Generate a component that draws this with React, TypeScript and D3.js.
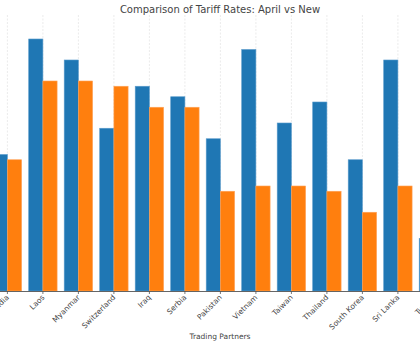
import React from "react";
import * as d3 from "d3";

const categories = ["India", "Laos", "Myanmar", "Switzerland", "Iraq", "Serbia", "Pakistan", "Vietnam", "Taiwan", "Thailand", "South Korea", "Sri Lanka", "Turkey"];
const aprilRates = [26, 48, 44, 31, 39, 37, 29, 46, 32, 36, 25, 44, 10];
const newRates = [25, 40, 40, 39, 35, 35, 19, 20, 20, 19, 15, 20, 15];

const W = 420;
const H = 345;
const step = 35.5;
const firstCenter = 7.4;
const baseY = 291;
const topY = 15;

export default function App() {
  const x = d3
    .scaleBand<string>()
    .domain(categories)
    .range([firstCenter - step / 2, firstCenter - step / 2 + step * categories.length])
    .padding(0);
  const y = d3.scaleLinear().domain([0, 52.57]).range([baseY, topY]);
  const bw = x.bandwidth() * 0.4;
  const font = "DejaVu Sans, sans-serif";
  const cx = (c: string) => (x(c) as number) + x.bandwidth() / 2;

  return (
    <svg width={W} height={H} style={{ position: "absolute", left: 0, top: 0, background: "#fff" }}>
      <rect width={W} height={H} fill="#fff" />
      {categories.map((c) => (
        <line key={"g" + c} x1={cx(c)} x2={cx(c)} y1={topY} y2={baseY} stroke="#e6e6e6" strokeWidth={0.8} strokeDasharray="2,1.5" />
      ))}
      {categories.map((c, i) => (
        <g key={"b" + c}>
          <rect x={cx(c) - bw} y={y(aprilRates[i])} width={bw} height={baseY - y(aprilRates[i])} fill="#1f77b4" stroke="#5a9bcb" strokeWidth={0.6} />
          <rect x={cx(c)} y={y(newRates[i])} width={bw} height={baseY - y(newRates[i])} fill="#ff7f0e" stroke="#ffa35a" strokeWidth={0.6} />
        </g>
      ))}
      <line x1={0} x2={W} y1={baseY + 0.5} y2={baseY + 0.5} stroke="#555" strokeWidth={0.9} />
      {categories.map((c) => (
        <g key={"t" + c}>
          <line x1={cx(c)} x2={cx(c)} y1={baseY} y2={baseY + 3} stroke="#555" strokeWidth={0.8} />
          <text
            transform={`translate(${cx(c) + 2},${baseY + 7}) rotate(-45)`}
            textAnchor="end"
            fontFamily={font}
            fontSize={7.5}
            fill="#444"
          >
            {c}
          </text>
        </g>
      ))}
      <text x={220} y={12.5} textAnchor="middle" fontFamily={font} fontSize={10} fill="#444">
        Comparison of Tariff Rates: April vs New
      </text>
      <text x={220} y={339} textAnchor="middle" fontFamily={font} fontSize={7.5} fill="#444">
        Trading Partners
      </text>
    </svg>
  );
}
